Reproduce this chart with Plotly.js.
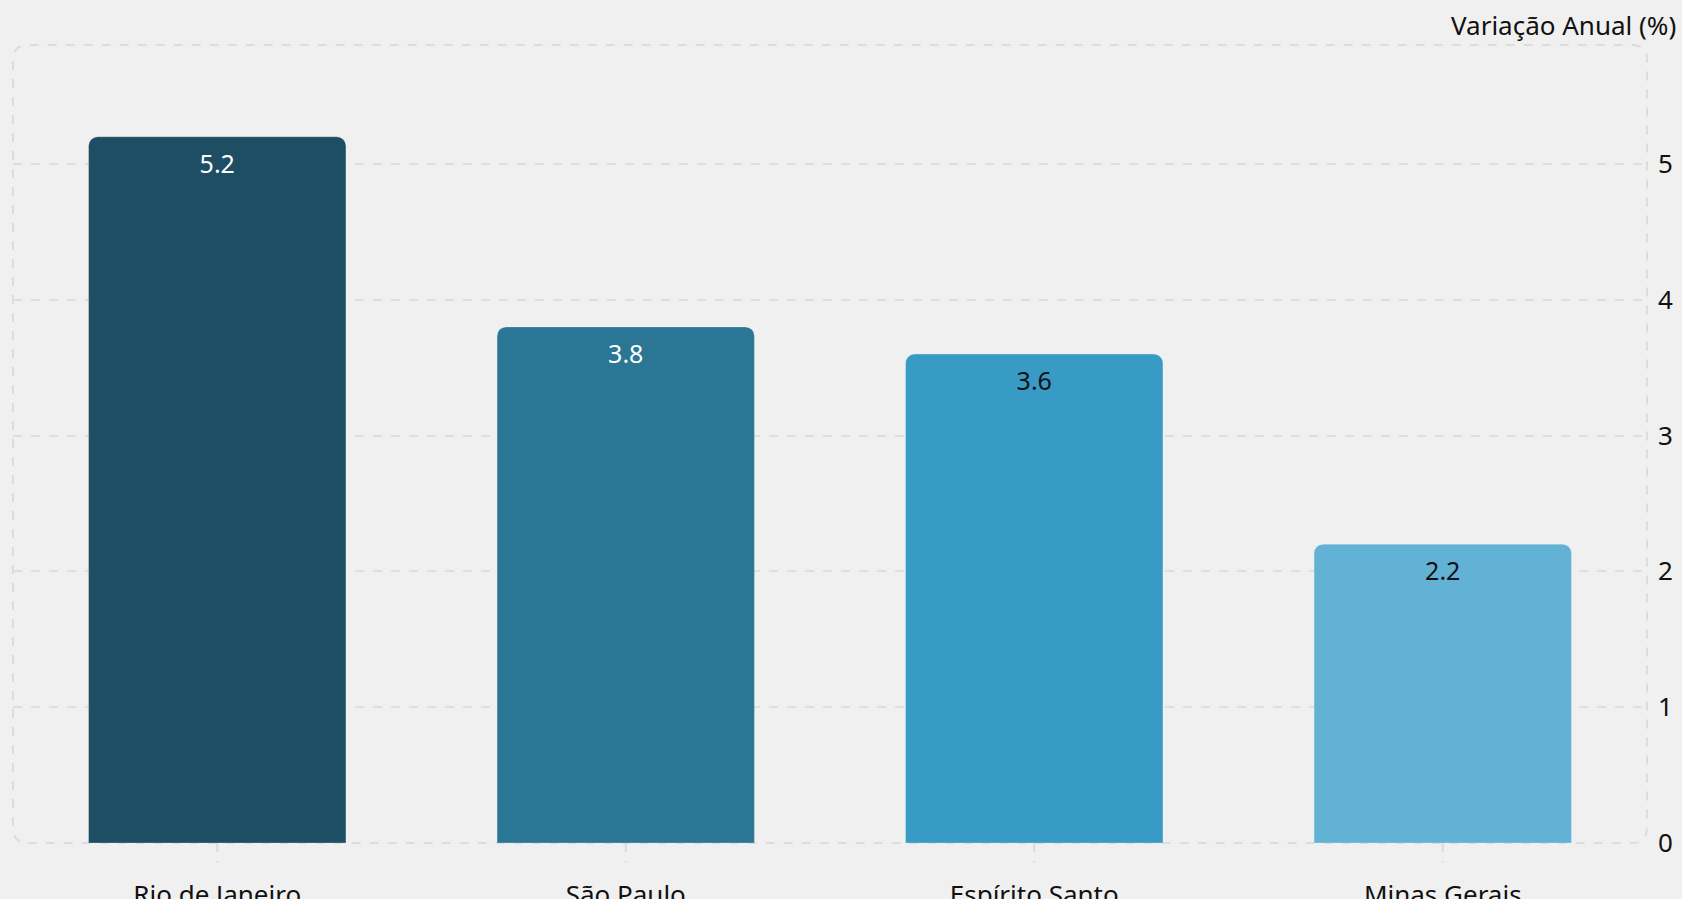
<!DOCTYPE html>
<html>
<head>
<meta charset="utf-8">
<script src="https://cdn.plot.ly/plotly-3.0.1.min.js"></script>
<style>html,body{margin:0;padding:0;background:#f0f0f0;}#chart{width:1682px;height:899px;}</style>
</head>
<body>
<div id="chart"></div>
<script>
const categories = ["Rio de Janeiro", "São Paulo", "Espírito Santo", "Minas Gerais"];
const values = [5.2, 3.8, 3.6, 2.2];
const barColors = ["#1d4e63", "#2a7694", "#379bc5", "#62b2d5"];
const labelColors = ["#ffffff", "#ffffff", "#111111", "#111111"];
const yTicks = [0, 1, 2, 3, 4, 5];
const yTitle = "Variação Anual (%)";

const font = "Noto Sans, Open Sans, sans-serif";

const trace = {
  type: "bar",
  x: categories,
  y: values,
  text: values.map(v => v.toFixed(1)),
  textposition: "inside",
  insidetextanchor: "end",
  textangle: 0,
  textfont: {family: font, size: 25, color: labelColors},
  marker: {color: barColors, cornerradius: 9, line: {color: "rgba(255,255,255,0.25)", width: 1}},
  hoverinfo: "x+y",
  cliponaxis: false
};

// dashed tick marks below each category
const tickShapes = categories.map(c => ({
  type: "line", xref: "x", yref: "paper", x0: c, x1: c, y0: 0, y1: -0.024,
  line: {color: "#d9d9d9", width: 2, dash: "dash"}, layer: "below"
}));

const layout = {
  width: 1682, height: 899,
  paper_bgcolor: "#f0f0f0", plot_bgcolor: "#f0f0f0",
  margin: {l: 13, r: 35, t: 45, b: 56},
  font: {family: font, size: 26, color: "#111111"},
  bargap: 0.37,
  showlegend: false,
  xaxis: {
    type: "category", range: [-0.5, 3.5], showgrid: false, zeroline: false, showline: false,
    ticks: "outside", ticklen: 19, tickcolor: "rgba(0,0,0,0)", ticklabelstandoff: 10,
    tickfont: {family: font, size: 26, color: "#111111"}
  },
  yaxis: {
    side: "right", range: [0, 5.876], tickvals: yTicks, ticktext: yTicks.map(String),
    showgrid: true, gridcolor: "#dedede", gridwidth: 1.5, griddash: "dash",
    zeroline: false, showline: false, ticks: "", ticklabelstandoff: 10,
    tickfont: {family: font, size: 26, color: "#111111"}
  },
  shapes: [
    {
      type: "path", xref: "paper", yref: "paper", layer: "below",
      path: "M 0.009,0 L 0.991,0 Q 1,0 1,0.019 L 1,0.981 Q 1,1 0.991,1 L 0.009,1 Q 0,1 0,0.981 L 0,0.019 Q 0,0 0.009,0 Z",
      line: {color: "#dcdcdc", width: 2, dash: "dash"}
    }
  ].concat(tickShapes),
  annotations: [{
    text: yTitle, xref: "paper", yref: "paper", x: 1, y: 1, xanchor: "right", yanchor: "bottom",
    xshift: 31, yshift: 0, showarrow: false, font: {family: font, size: 26, color: "#111111"}
  }]
};

Plotly.newPlot("chart", [trace], layout, {displayModeBar: false, responsive: false});
</script>
</body>
</html>
